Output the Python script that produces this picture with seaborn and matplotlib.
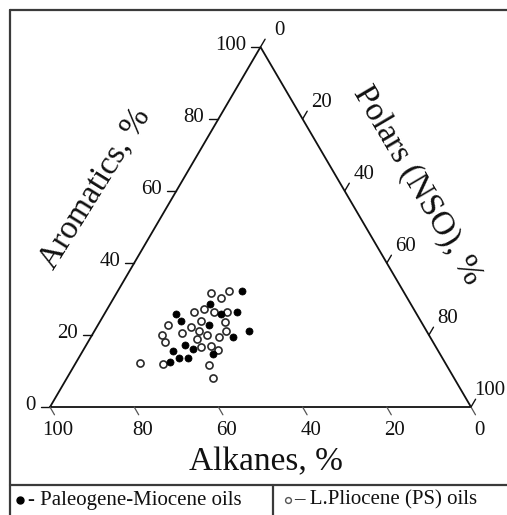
import matplotlib
matplotlib.use("Agg")
import matplotlib.pyplot as plt
from matplotlib.lines import Line2D
import numpy as np
import pandas as pd
import seaborn as sns

# Paleogene-Miocene oils: group composition, %
pm_alkanes = [38.2, 47.7, 46.4, 42.3, 57.2, 56.9, 50.9, 42.2, 46.8, 59.3, 58.0, 63.1, 62.5, 60.4, 54.0, 65.3]
pm_aromatics = [32.2, 28.6, 25.8, 26.4, 25.8, 23.9, 22.8, 21.2, 19.5, 17.2, 16.1, 15.6, 13.7, 13.7, 14.6, 12.6]
pm_polars = [29.6, 23.7, 27.8, 31.3, 17.0, 19.2, 26.3, 36.6, 33.7, 23.5, 25.9, 21.3, 23.8, 25.9, 31.4, 22.1]

# L.Pliocene (PS) oils: group composition, %
ps_alkanes = [46.0, 41.3, 44.3, 52.5, 49.8, 47.7, 44.8, 52.1, 46.8, 60.6, 55.3, 53.9, 47.7,
              58.3, 52.7, 50.0, 63.3, 63.6, 55.7, 55.8, 53.3, 52.1, 72.4, 67.3, 56.5, 57.2]
ps_aromatics = [31.6, 32.2, 30.2, 26.5, 27.2, 26.5, 26.5, 24.0, 23.5, 22.8, 22.3, 21.2, 21.2,
                20.6, 20.0, 19.5, 20.0, 18.1, 18.8, 16.6, 16.9, 15.8, 12.3, 11.9, 11.7, 8.1]
ps_polars = [22.4, 26.5, 25.5, 21.0, 23.0, 25.8, 28.7, 23.9, 29.7, 16.6, 22.4, 24.9, 31.1,
             21.1, 27.3, 30.5, 16.7, 18.3, 25.5, 27.6, 29.8, 32.1, 15.3, 20.8, 31.8, 34.7]

tick_values = [0, 20, 40, 60, 80, 100]
axis_titles = ["Alkanes, %", "Aromatics, %", "Polars (NSO), %"]
group_names = ["Paleogene-Miocene oils", "L.Pliocene (PS) oils"]

H = np.sqrt(3) / 2


def project(alk, aro, pol):
    """Ternary composition -> cartesian (alkanes apex left, aromatics top, polars right)."""
    alk, aro, pol = (np.asarray(v, float) for v in (alk, aro, pol))
    tot = alk + aro + pol
    aro, pol = aro / tot * 100, pol / tot * 100
    return pol + aro / 2, aro * H


def frame(df_alk, df_aro, df_pol, group):
    x, y = project(df_alk, df_aro, df_pol)
    return pd.DataFrame({"x": x, "y": y, "group": group})


data = pd.concat([frame(pm_alkanes, pm_aromatics, pm_polars, group_names[0]),
                  frame(ps_alkanes, ps_aromatics, ps_polars, group_names[1])],
                 ignore_index=True)

sns.set_style("white")
plt.rcParams["font.family"] = ["Liberation Serif", "DejaVu Serif"]

W, Hpx = 507, 515
fig = plt.figure(figsize=(W / 100, Hpx / 100), dpi=100)
ax = fig.add_axes([0, 0, 1, 1])
ax.set_xlim(-11.876, 108.551)
ax.set_ylim(-25.98, 97.91)
ax.axis("off")

sx = W / (108.551 + 11.876)      # pixels per x unit
sy = Hpx / (97.91 + 25.98)       # pixels per y unit
ink = "#111111"

# triangle outline
tri_x = [0, 100, 50, 0]
tri_y = [0, 0, 100 * H, 0]
ax.plot(tri_x, tri_y, color=ink, lw=1.3, solid_joinstyle="miter")

fs_tick = 15
for v in tick_values:
    # Alkanes along the base: 100 at the left apex
    bx, by = 100 - v, 0.0
    ax.plot([bx, bx + 4.5 / sx], [by, by - 7.8 / sy], color="#555555", lw=0.9)
    ax.annotate(str(v), (bx, by), xytext=(8, -23), textcoords="offset pixels",
                ha="center", va="center", fontsize=fs_tick, color=ink)
    # Aromatics along the left edge: horizontal ticks
    lx, ly = project(100 - v, v, 0)
    ax.plot([lx - 9 / sx, lx], [ly, ly], color=ink, lw=1.0)
    ax.annotate(str(v), (lx, ly), xytext=(-14, 2), textcoords="offset pixels",
                ha="right", va="center", fontsize=fs_tick, color=ink)
    # Polars along the right edge: ticks parallel to the left edge
    rx, ry = project(0, 100 - v, v)
    ax.plot([rx, rx + 4.6 / sx], [ry, ry + 7.8 / sy], color=ink, lw=1.0)
    ax.annotate(str(v), (rx, ry), xytext=(19, 17), textcoords="offset pixels",
                ha="center", va="center", fontsize=fs_tick, color=ink)

# data points
sns.scatterplot(data=data[data.group == group_names[1]], x="x", y="y", ax=ax,
                marker="o", s=26, facecolor="white", edgecolor="#2a2a2a",
                linewidth=1.2, legend=False, zorder=3)
sns.scatterplot(data=data[data.group == group_names[0]], x="x", y="y", ax=ax,
                marker="o", s=26, color="black", edgecolor="black",
                linewidth=0.5, legend=False, zorder=4)


def fxy(px, py):
    return px / W, 1 - py / Hpx


# axis titles
fs_title = 24
fig.text(*fxy(266, 462), axis_titles[0], ha="center", va="center",
         fontsize=fs_title, color=ink)
fig.text(*fxy(95, 188), axis_titles[1], ha="center", va="center",
         rotation=58, rotation_mode="anchor", fontsize=fs_title, color=ink)
fig.text(*fxy(417, 185), axis_titles[2], ha="center", va="center",
         rotation=-59.5, rotation_mode="anchor", fontsize=fs_title, color=ink)

# outer frame and legend strip
edge = "#3a3a3a"
for (x0, y0), (x1, y1) in [((10, 10), (10, 515)), ((10, 10), (507, 10)),
                           ((10, 485), (507, 485)), ((273, 485), (273, 515))]:
    fig.add_artist(Line2D([x0 / W, x1 / W], [1 - y0 / Hpx, 1 - y1 / Hpx],
                          transform=fig.transFigure, color=edge, lw=1.6))

fig.add_artist(Line2D([20 / W], [1 - 500 / Hpx], transform=fig.transFigure,
                      marker="o", markersize=5, color="black", lw=0))
fig.text(*fxy(28, 500), "- " + group_names[0], ha="left", va="center",
         fontsize=15, color=ink)
fig.add_artist(Line2D([288 / W], [1 - 500 / Hpx], transform=fig.transFigure,
                      marker="o", markersize=4.2, markerfacecolor="white",
                      markeredgecolor="#555555", markeredgewidth=1.0, lw=0))
fig.text(*fxy(294, 500), "\u2013 " + group_names[1], ha="left", va="center",
         fontsize=15, color=ink)

fig.savefig("out.png", dpi=100, facecolor="white")
